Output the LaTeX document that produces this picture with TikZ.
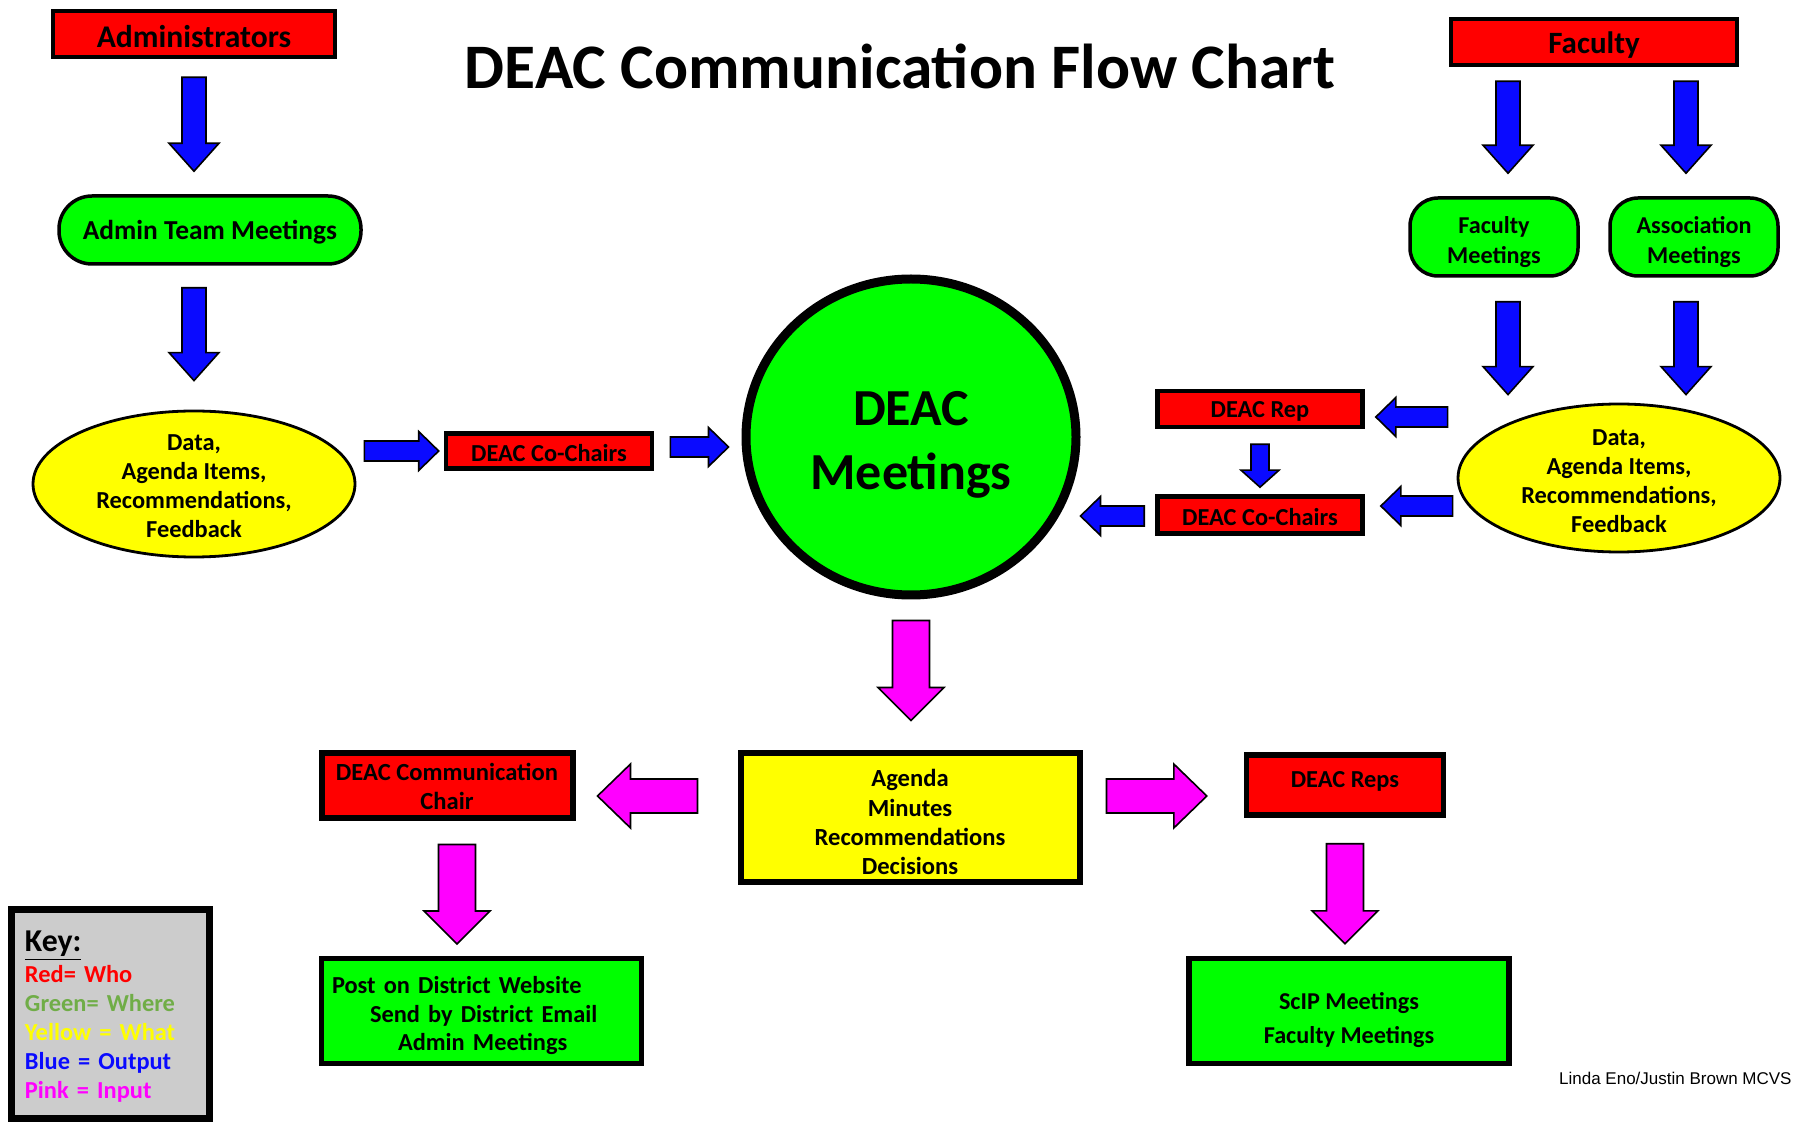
\documentclass[tikz,border=0pt]{standalone}
\usepackage{fontspec}
\setmainfont{Carlito}
\newfontfamily\creditfont{Liberation Sans}
\usetikzlibrary{shapes.geometric,calc}

\definecolor{boxred}{HTML}{FF0000}
\definecolor{boxgreen}{HTML}{00FF00}
\definecolor{boxyellow}{HTML}{FFFF00}
\definecolor{arrowblue}{HTML}{0A0AFF}
\definecolor{arrowpink}{HTML}{FF00FF}
\definecolor{keygrey}{HTML}{CCCCCC}
\definecolor{keygreen}{HTML}{70AD47}

% block arrow: fill, half shaft, half head, head length, tail, tip
\newcommand{\flowarrow}[6]{%
  \path #5 coordinate (fa-tail) #6 coordinate (fa-tip);
  \path ($(fa-tip)!#4!(fa-tail)$) coordinate (fa-neck);
  \draw[line width=0.8pt, line join=miter, fill=#1]
    ($(fa-tail)!#2!90:(fa-tip)$) -- ($(fa-neck)!#2!90:(fa-tip)$)
    -- ($(fa-neck)!#3!90:(fa-tip)$) -- (fa-tip)
    -- ($(fa-neck)!#3!-90:(fa-tip)$) -- ($(fa-neck)!#2!-90:(fa-tip)$)
    -- ($(fa-tail)!#2!-90:(fa-tip)$) -- cycle;
}
\newcommand{\bluedown}[2]{\flowarrow{arrowblue}{6pt}{12.5pt}{14pt}{#1}{#2}}
\newcommand{\blueside}[2]{\flowarrow{arrowblue}{5pt}{9.75pt}{10pt}{#1}{#2}}
\newcommand{\bluesmall}[2]{\flowarrow{arrowblue}{4.5pt}{9.5pt}{8.5pt}{#1}{#2}}
\newcommand{\pinkdown}[2]{\flowarrow{arrowpink}{9.25pt}{16.5pt}{16.5pt}{#1}{#2}}
\newcommand{\pinkside}[2]{\flowarrow{arrowpink}{8.5pt}{16pt}{16.5pt}{#1}{#2}}
% strut that pushes a text block down inside its node
\newcommand{\txtdrop}[1]{\rule{0pt}{#1}}

\begin{document}
\begin{tikzpicture}[x=0.5pt, y=-0.5pt,
  drop/.style={execute at begin node={\rule{0pt}{#1}}},
  lift/.style={execute at begin node={\rule[-#1]{0pt}{#1}}},
  who/.style={rectangle, draw=black, fill=boxred, line width=2.3pt, inner sep=0pt,
    align=center, font=\bfseries\fontsize{12.2}{14.5}\selectfont},
  where/.style={rectangle, draw=black, fill=boxgreen, line width=1.75pt, inner sep=0pt,
    align=center, font=\bfseries\fontsize{12.1}{15}\selectfont},
  what/.style={ellipse, draw=black, fill=boxyellow, line width=1.4pt, inner sep=-8pt,
    align=center, minimum width=161pt, minimum height=73pt,
    font=\bfseries\fontsize{12.2}{14.5}\selectfont},
  result/.style={rectangle, draw=black, fill=boxgreen, line width=2.5pt, inner sep=0pt,
    minimum width=160pt, minimum height=52.5pt,
    font=\bfseries\fontsize{12.2}{14.3}\selectfont}]
  \useasboundingbox (0,0) rectangle (1794,1122);
  \clip (0,0) rectangle (1794,1122);

  \node (title) at (900,66) {\bfseries\fontsize{31.7}{36}\selectfont DEAC Communication Flow Chart};

  % left column
  \node[who, drop=13.4pt, minimum width=141pt, minimum height=23pt,
    font=\bfseries\fontsize{15.8}{18}\selectfont] (admins) at (194,34) {Administrators};
  \node[where, drop=11.9pt, rounded corners=16.5pt, minimum width=151pt, minimum height=34pt,
    font=\bfseries\fontsize{13.7}{16}\selectfont] (adminmtg) at (210,230) {Admin Team Meetings};
  \node[what] (dataL) at (194,484) {\txtdrop{9.6pt}Data,\\Agenda Items,\\Recommendations,\\Feedback};
  \node[who, drop=10.8pt, minimum width=103pt, minimum height=17.5pt] (chairsL) at (549,451) {DEAC Co-Chairs};

  % centre
  \node[ellipse, draw=black, fill=boxgreen, line width=4.5pt, inner sep=0pt, align=center,
    minimum width=165pt, minimum height=158pt,
    font=\bfseries\fontsize{26}{32}\selectfont] (deac) at (911,437) {\txtdrop{24.7pt}DEAC\\Meetings};

  % right column
  \node[who, drop=14.3pt, minimum width=143pt, minimum height=23pt,
    font=\bfseries\fontsize{15.5}{18}\selectfont] (faculty) at (1594,42) {Faculty};
  \node[where, rounded corners=14pt, minimum width=84pt, minimum height=39pt]
    (facmtg) at (1494,237) {\txtdrop{13.1pt}Faculty\\Meetings};
  \node[where, rounded corners=14pt, minimum width=84pt, minimum height=39pt]
    (assocmtg) at (1694,237) {\txtdrop{13.1pt}Association\\Meetings};
  \node[what, minimum height=74pt] (dataR) at (1619,478)
    {\txtdrop{11.3pt}Data,\\Agenda Items,\\Recommendations,\\Feedback};
  \node[who, drop=10.2pt, minimum width=102.5pt, minimum height=18pt] (rep) at (1260,409) {DEAC Rep};
  \node[who, drop=10.8pt, minimum width=102.5pt, minimum height=18.5pt] (chairsR) at (1260,515) {DEAC Co-Chairs};

  % lower part
  \node[rectangle, draw=black, fill=boxyellow, line width=3pt, inner sep=0pt, align=center,
    minimum width=169.5pt, minimum height=64.5pt,
    font=\bfseries\fontsize{12.3}{14.6}\selectfont]
    (agenda) at (910,817) {\txtdrop{13.8pt}Agenda\\Minutes\\Recommendations\\Decisions};
  \node[who, line width=3pt, minimum width=125.5pt, minimum height=32.5pt,
    font=\bfseries\fontsize{12.3}{14.3}\selectfont] (commchair) at (447,785)
    {\txtdrop{10.1pt}DEAC Communication\\Chair};
  \node[who, lift=6pt, line width=2.7pt, minimum width=98.5pt, minimum height=30pt]
    (reps) at (1345,785) {DEAC Reps};
  \node[result, drop=13.1pt, text width=149pt, align=left] (post) at (481,1011)
    {Post on District Website\\\hspace*{19pt}Send by District Email\\\hspace*{33pt}Admin Meetings};
  \node[result, line width=2.7pt, align=center, font=\bfseries\fontsize{12.1}{17}\selectfont]
    (scip) at (1349,1011) {\txtdrop{17.7pt}ScIP Meetings\\Faculty Meetings};

  % key
  \node[rectangle, draw=black, fill=keygrey, line width=3.5pt, inner sep=0pt, drop=13.6pt,
    minimum width=99pt, minimum height=104.5pt, text width=85.5pt, align=left,
    font=\bfseries\fontsize{12.2}{14.5}\selectfont] (key) at (110.5,1013.5)
    {{\fontsize{15.9}{18}\selectfont\underline{Key:}}\\[1pt]
     \textcolor{boxred}{Red= Who}\\
     \textcolor{keygreen}{Green= Where}\\
     \textcolor{boxyellow}{Yellow = What}\\
     \textcolor{arrowblue}{Blue = Output}\\
     \textcolor{arrowpink}{Pink = Input}};

  \node[anchor=east, inner sep=0pt, font=\creditfont\fontsize{8.5}{10}\selectfont]
    (credit) at (1792,1078) {Linda Eno/Justin Brown MCVS};

  % blue arrows
  \bluedown{($(admins.south)+(0,18)$)}{($(admins.south |- adminmtg.north)+(0,-23)$)}
  \bluedown{($(admins |- adminmtg.south)+(0,22)$)}{($(dataL.north)+(0,-29)$)}
  \blueside{($(dataL.east |- chairsL.west)+(8,0)$)}{($(chairsL.west)+(-5,0)$)}
  \blueside{($(chairsL.east)+(16,-4)$)}{($(deac.west |- chairsL.east)+(-13,-4)$)}
  \bluedown{($(faculty.south -| facmtg)+(14,14)$)}{($(facmtg.north)+(14,-23)$)}
  \bluedown{($(faculty.south -| assocmtg)+(-8,14)$)}{($(assocmtg.north)+(-8,-23)$)}
  \bluedown{($(facmtg.south)+(14,24)$)}{($(dataR.north -| facmtg)+(14,-8)$)}
  \bluedown{($(assocmtg.south)+(-8,24)$)}{($(dataR.north -| assocmtg)+(-8,-8)$)}
  \blueside{($(dataR.west |- rep.east)+(-9,8)$)}{($(rep.east)+(11,8)$)}
  \bluesmall{($(rep.south)+(0,15)$)}{($(chairsR.north)+(0,-7)$)}
  \blueside{($(dataR.west |- chairsR.east)+(-4,-9)$)}{($(chairsR.east)+(16,-9)$)}
  \blueside{($(chairsR.west)+(-11,1)$)}{($(deac.east |- chairsR.west)+(0,1)$)}

  % pink arrows
  \pinkdown{($(deac.south)+(0,21)$)}{($(agenda.north -| deac)+(0,-29)$)}
  \pinkside{($(agenda.west)+(-40,-21)$)}{($(commchair.east)+(22,11)$)}
  \pinkside{($(agenda.east)+(24,-21)$)}{($(reps.west)+(-37,11)$)}
  \pinkdown{($(commchair.south)+(10,24)$)}{($(commchair.south |- post.north)+(10,-12)$)}
  \pinkdown{($(reps.south)+(0,26)$)}{($(reps.south |- scip.north)+(0,-12)$)}
\end{tikzpicture}
\end{document}
